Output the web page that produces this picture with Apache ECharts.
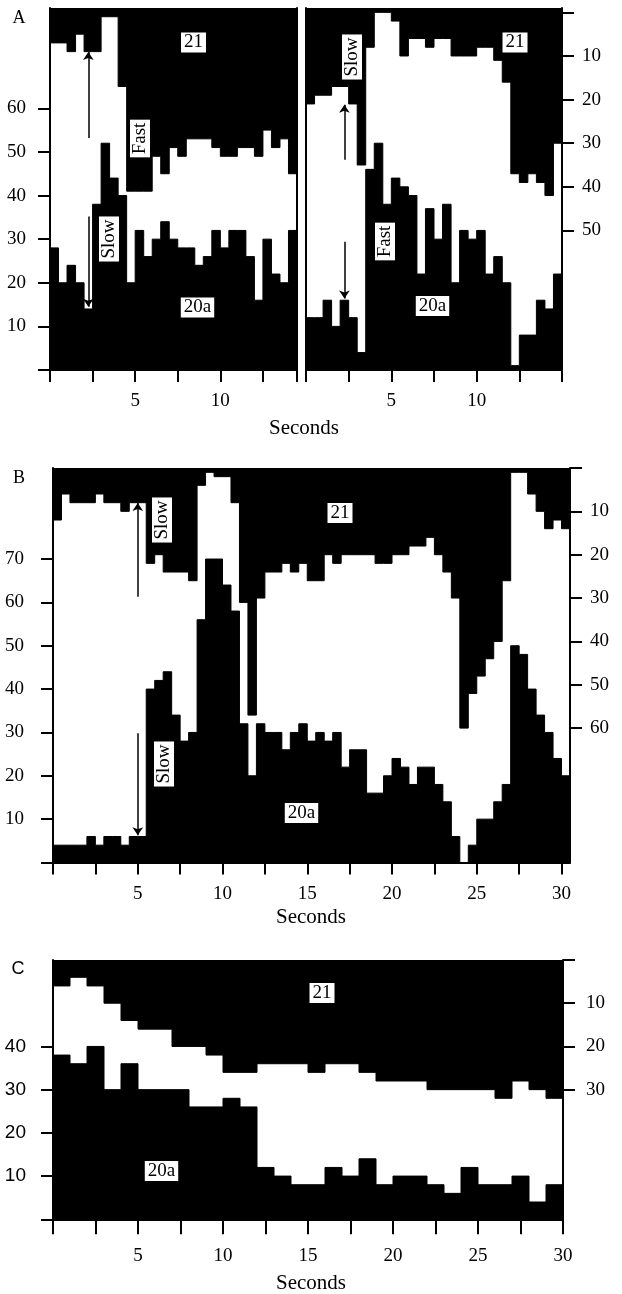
<!DOCTYPE html>
<html>
<head>
<meta charset="utf-8">
<script src="https://cdn.jsdelivr.net/npm/echarts@6.0.0/dist/echarts.min.js"></script>
<style>
html, body { margin: 0; padding: 0; background: #fff; }
#chart { width: 622px; height: 1294px; }
</style>
</head>
<body>
<div id="chart"></div>
<script>
// bin width in seconds
var binA = 0.5, binB = 0.5, binC = 1;

// panel A, left half (0 - 14.5 s)
var aLeft20a = [28,20,24,20,14,38,52,44,40,20,32,26,30,34,30,28,28,24,26,32,28,32,32,26,16,30,22,20,32];
var aLeft21  = [7,7,9,5,9,9,1,1,17,41,41,41,33,37,31,33,29,29,29,31,33,33,31,31,33,27,31,29,37];
// panel A, right half (0 - 15 s)
var aRight20a = [12,12,16,10,16,12,4,46,52,38,44,42,40,22,37,30,38,20,32,30,32,22,26,20,1,8,8,16,14,22];
var aRight21  = [21,19,19,17,17,21,35,8,0,0,2,10,6,6,8,6,6,10,10,10,8,8,11,16,37,39,37,39,42,30];
// panel B (0 - 30.5 s)
var b20a = [4,4,4,4,6,4,6,6,4,6,6,40,42,44,34,28,30,56,70,70,64,58,32,20,32,30,30,26,30,32,
            28,30,28,30,22,26,26,16,16,20,24,22,18,22,22,18,14,6,0,4,10,10,14,18,50,48,40,34,30,24,20];
var b21  = [12,6,8,8,8,6,8,8,10,8,8,22,20,24,24,24,26,4,1,2,2,8,31,57,30,24,24,22,24,22,
            26,26,20,22,20,20,20,20,22,22,20,20,18,18,16,20,24,30,60,52,48,44,40,26,1,1,6,10,14,12,14];
// panel C (0 - 30 s)
var c20a = [38,36,40,30,36,30,30,30,26,26,28,26,12,10,8,8,12,10,14,8,10,10,8,6,12,8,8,10,4,8];
var c21  = [6,4,6,10,14,16,16,20,20,22,26,26,24,24,24,26,24,24,26,28,28,28,30,30,30,30,32,28,30,32];

// axis ticks / labels
var secTicksA1 = [0,2.5,5,7.5,10,12.5,14.5];
var secTicksA2 = [0,2.5,5,7.5,10,12.5,15];
var secLabelsA = [5,10];
var secTicks30 = [0,2.5,5,7.5,10,12.5,15,17.5,20,22.5,25,27.5,30];
var secLabels30 = [5,10,15,20,25,30];
var leftTicksA = [0,10,20,30,40,50,60], leftLabelsA = [10,20,30,40,50,60];
var rightTicksA = [0,10,20,30,40,50], rightLabelsA = [10,20,30,40,50];
var leftTicksB = [0,10,20,30,40,50,60,70], leftLabelsB = [10,20,30,40,50,60,70];
var rightTicksB = [0,10,20,30,40,50,60], rightLabelsB = [10,20,30,40,50,60];
var leftTicksC = [0,10,20,30,40], leftLabelsC = [10,20,30,40];
var rightTicksC = [0,10,20,30], rightLabelsC = [10,20,30];

var serif = '"Liberation Serif", "Times New Roman", serif';
var sans = '"Liberation Sans", Arial, sans-serif';

var myChart = echarts.init(document.getElementById('chart'));

function stepData(vals, w) {
    var d = vals.map(function (v, i) { return [i * w, v]; });
    d.push([vals.length * w, vals[vals.length - 1]]);
    return d;
}

function xAx(g, max, ticks, labels, margin, tickLen) {
    return {
        type: 'value', gridIndex: g, min: 0, max: max, interval: 2.5,
        axisLine: { show: true, onZero: false, lineStyle: { color: '#000', width: 2 } },
        axisTick: { show: true, length: tickLen, customValues: ticks, lineStyle: { color: '#000', width: 2 } },
        axisLabel: { customValues: labels, margin: margin, color: '#000', fontFamily: serif, fontSize: 19 },
        splitLine: { show: false }
    };
}

// ticks == null: only the axis line (border between the two halves of A)
function yAx(g, pos, min, max, inv, ticks, labels, margin, font) {
    var ax = {
        type: 'value', gridIndex: g, position: pos, min: min, max: max, inverse: inv, interval: 10,
        axisLine: { show: true, lineStyle: { color: '#000', width: 2 } },
        axisTick: { show: false },
        axisLabel: { show: false },
        splitLine: { show: false }
    };
    if (ticks) {
        ax.axisTick = { show: true, length: 12, customValues: ticks, lineStyle: { color: '#000', width: 2 } };
        ax.axisLabel = { customValues: labels, margin: margin, color: '#000', fontFamily: font || serif, fontSize: 19 };
    }
    return ax;
}

function fill(xi, yi, vals, w, arrows) {
    var s = {
        type: 'line', xAxisIndex: xi, yAxisIndex: yi, step: 'end', symbol: 'none', silent: true,
        data: stepData(vals, w),
        lineStyle: { color: '#000', width: 1 },
        areaStyle: { color: '#000', opacity: 1, origin: 'start' }
    };
    if (arrows) {
        s.markLine = {
            silent: true, symbol: ['none', 'arrow'], symbolSize: 8,
            label: { show: false },
            lineStyle: { color: '#000', width: 1.5, type: 'solid' },
            data: arrows.map(function (a) { return [{ coord: [a[0], a[1]] }, { coord: [a[0], a[2]] }]; })
        };
    }
    return s;
}

function box(x, y, text, rot) {
    return {
        type: 'text', x: x, y: y, rotation: rot ? Math.PI / 2 : 0, z: 100,
        style: {
            text: text, font: '19px ' + serif, fill: '#000',
            align: 'center', verticalAlign: 'middle',
            backgroundColor: '#fff', borderColor: '#000', borderWidth: 1, padding: [1, 3, 0, 3]
        }
    };
}

function txt(x, y, text, font) {
    return {
        type: 'text', x: x, y: y, z: 100,
        style: { text: text, font: font, fill: '#000', align: 'center', verticalAlign: 'middle' }
    };
}

var option = {
    animation: false,
    backgroundColor: '#fff',
    grid: [
        { left: 50, top: 8, width: 247, height: 362, outerBoundsMode: 'none' },
        { left: 306, top: 8, width: 256, height: 362, outerBoundsMode: 'none' },
        { left: 53, top: 468, width: 517, height: 394.5, outerBoundsMode: 'none' },
        { left: 53, top: 960, width: 510, height: 259.3, outerBoundsMode: 'none' }
    ],
    xAxis: [
        xAx(0, aLeft20a.length * binA, secTicksA1, secLabelsA, 22, 12),
        xAx(1, aRight20a.length * binA, secTicksA2, secLabelsA, 22, 12),
        xAx(2, b20a.length * binB, secTicks30, secLabels30, 22, 12),
        xAx(3, c20a.length * binC, secTicks30, secLabels30, 27, 15)
    ],
    yAxis: [
        yAx(0, 'left', 0, 83, false, leftTicksA, leftLabelsA, 24),
        yAx(0, 'right', -1, 82, true),
        yAx(1, 'left', 0, 83, false),
        yAx(1, 'right', -1, 82, true, rightTicksA, rightLabelsA, 20),
        yAx(2, 'left', 0, 91, false, leftTicksB, leftLabelsB, 29),
        yAx(2, 'right', 0, 91, true, rightTicksB, rightLabelsB, 20),
        yAx(3, 'left', 0, 60, false, leftTicksC, leftLabelsC, 27, sans),
        yAx(3, 'right', 0, 60, true, rightTicksC, rightLabelsC, 23)
    ],
    series: [
        fill(0, 0, aLeft20a, binA, [[2.25, 53.2, 72.9], [2.25, 35.2, 14.5]]),
        fill(0, 1, aLeft21, binA),
        fill(1, 2, aRight20a, binA, [[2.25, 48.2, 60.8], [2.25, 29.4, 16.4]]),
        fill(1, 3, aRight21, binA),
        fill(2, 4, b20a, binB, [[5, 61.3, 82.9], [5, 29.8, 6.3]]),
        fill(2, 5, b21, binB),
        fill(3, 6, c20a, binC),
        fill(3, 7, c21, binC)
    ],
    graphic: {
        elements: [
            txt(19, 18, 'A', '18px ' + serif),
            txt(19, 478, 'B', '18px ' + serif),
            txt(18, 969, 'C', '18px ' + sans),
            txt(304, 428, 'Seconds', '21px ' + serif),
            txt(311, 917, 'Seconds', '21px ' + serif),
            txt(311, 1283, 'Seconds', '21px ' + serif),
            box(193.5, 42.5, '21'),
            box(197.5, 307.5, '20a'),
            box(140, 138.5, 'Fast', true),
            box(109, 239, 'Slow', true),
            box(352, 57, 'Slow', true),
            box(515, 42.5, '21'),
            box(385, 241.5, 'Fast', true),
            box(432.5, 306, '20a'),
            box(162, 520, 'Slow', true),
            box(164, 764, 'Slow', true),
            box(340, 513, '21'),
            box(301.5, 813, '20a'),
            box(322, 993, '21'),
            box(161.5, 1171, '20a')
        ]
    }
};

myChart.setOption(option);
</script>
</body>
</html>
